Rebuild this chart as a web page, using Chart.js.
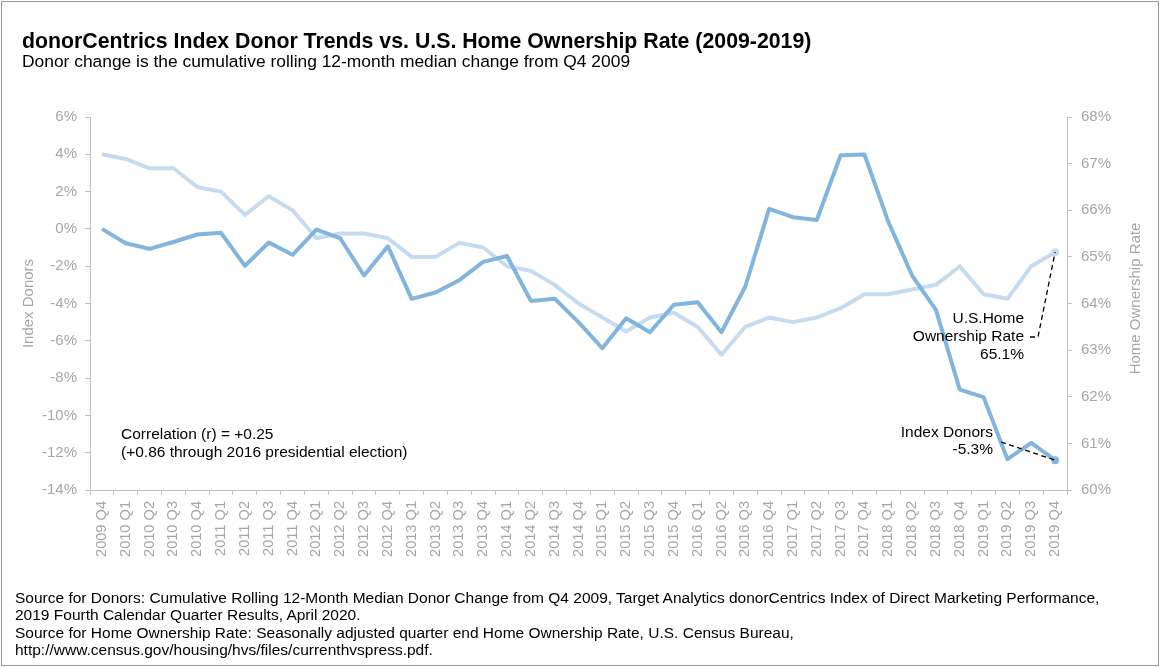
<!DOCTYPE html>
<html>
<head>
<meta charset="utf-8">
<script src="https://cdn.jsdelivr.net/npm/chart.js@4.4.1/dist/chart.umd.min.js"></script>
<style>
  html, body { margin: 0; padding: 0; background: #fff; }
  body { width: 1161px; height: 667px; position: relative; overflow: hidden; font-family: "Liberation Sans", Arial, sans-serif; }
  #frame { position: absolute; left: 1px; top: 1px; width: 1156px; height: 663px; border: 1px solid #9a9a9a; }
  #title { position: absolute; left: 22px; top: 29px; font-size: 21.3px; font-weight: bold; color: #000; line-height: 24px; white-space: nowrap; }
  #subtitle { position: absolute; left: 22px; top: 52px; font-size: 17.4px; color: #000; line-height: 19px; white-space: nowrap; }
  #source { position: absolute; left: 15px; top: 590px; font-size: 15.5px; color: #000; line-height: 16.5px; white-space: nowrap; }
  #source div.gap { margin-top: 2px; }
  canvas { position: absolute; left: 0; top: 0; }
</style>
</head>
<body>
<div id="frame"></div>
<canvas id="c" width="1161" height="667"></canvas>
<div id="title">donorCentrics Index Donor Trends vs. U.S. Home Ownership Rate (2009-2019)</div>
<div id="subtitle">Donor change is the cumulative rolling 12-month median change from Q4 2009</div>
<div id="source">
  <div>Source for Donors: Cumulative Rolling 12-Month Median Donor Change from Q4 2009, Target Analytics donorCentrics Index of Direct Marketing Performance,</div>
  <div>2019 Fourth Calendar Quarter Results, April 2020.</div>
  <div class="gap">Source for Home Ownership Rate: Seasonally adjusted quarter end Home Ownership Rate, U.S. Census Bureau,</div>
  <div>http://www.census.gov/housing/hvs/files/currenthvspress.pdf.</div>
</div>
<script>
const categories = [
  "2009 Q4",
  "2010 Q1","2010 Q2","2010 Q3","2010 Q4",
  "2011 Q1","2011 Q2","2011 Q3","2011 Q4",
  "2012 Q1","2012 Q2","2012 Q3","2012 Q4",
  "2013 Q1","2013 Q2","2013 Q3","2013 Q4",
  "2014 Q1","2014 Q2","2014 Q3","2014 Q4",
  "2015 Q1","2015 Q2","2015 Q3","2015 Q4",
  "2016 Q1","2016 Q2","2016 Q3","2016 Q4",
  "2017 Q1","2017 Q2","2017 Q3","2017 Q4",
  "2018 Q1","2018 Q2","2018 Q3","2018 Q4",
  "2019 Q1","2019 Q2","2019 Q3","2019 Q4"
];

// Index Donors, cumulative % change (left axis)
const donors = [
  0.0,
  -0.77, -1.07, -0.70, -0.30,
  -0.21, -1.98, -0.73, -1.39,
  -0.04, -0.50, -2.50, -0.93,
  -3.75, -3.41, -2.75, -1.77,
  -1.45, -3.86, -3.74, -5.0,
  -6.40, -4.79, -5.54, -4.07,
  -3.93, -5.54, -3.09, 1.07,
  0.63, 0.48, 3.95, 3.99,
  0.39, -2.50, -4.34, -8.62,
  -9.02, -12.35, -11.47, -12.40
];

// U.S. Home Ownership Rate, % (right axis)
const homeRate = [
  67.2,
  67.1, 66.9, 66.9, 66.5,
  66.4, 65.9, 66.3, 66.0,
  65.4, 65.5, 65.5, 65.4,
  65.0, 65.0, 65.3, 65.2,
  64.8, 64.7, 64.4, 64.0,
  63.7, 63.4, 63.7, 63.8,
  63.5, 62.9, 63.5, 63.7,
  63.6, 63.7, 63.9, 64.2,
  64.2, 64.3, 64.4, 64.8,
  64.2, 64.1, 64.8, 65.1
];

const leftTickValues = [6, 4, 2, 0, -2, -4, -6, -8, -10, -12, -14];
const rightTickValues = [68, 67, 66, 65, 64, 63, 62, 61, 60];

const FONT = "'Liberation Sans', Arial, sans-serif";
const GRAY_TEXT = '#a6a6a6';
const AXIS_GRAY = '#bfbfbf';
const DARK = '#82b5de';
const LIGHT = '#c5dcf0';

const lastIdx = categories.length - 1;

const annotationPlugin = {
  id: 'annotations',
  afterDraw(chart) {
    const ctx = chart.ctx;
    const xs = chart.scales.x, yl = chart.scales.y, yr = chart.scales.y1;
    ctx.save();
    // axis titles
    ctx.fillStyle = GRAY_TEXT;
    ctx.font = '15px ' + FONT;
    ctx.textAlign = 'center';
    ctx.textBaseline = 'middle';
    const midY = (chart.chartArea.top + chart.chartArea.bottom) / 2;
    ctx.save(); ctx.translate(29, midY); ctx.rotate(-Math.PI / 2); ctx.fillText('Index Donors', 0, 0); ctx.restore();
    ctx.save(); ctx.translate(1136, midY - 5); ctx.rotate(-Math.PI / 2); ctx.fillText('Home Ownership Rate', 0, 0); ctx.restore();

    // text annotations
    ctx.fillStyle = '#000';
    ctx.font = '15.5px ' + FONT;
    ctx.textAlign = 'left';
    ctx.fillText('Correlation (r) = +0.25', 121, 435);
    ctx.fillText('(+0.86 through 2016 presidential election)', 121, 453);

    ctx.textAlign = 'right';
    ctx.fillText('U.S.Home', 1024, 319);
    ctx.fillText('Ownership Rate', 1024, 337);
    ctx.fillText('65.1%', 1024, 355);

    ctx.fillText('Index Donors', 993, 433);
    ctx.fillText('-5.3%', 993, 450);

    // dashed leaders to the last points
    const hx = xs.getPixelForValue(lastIdx), hy = yr.getPixelForValue(homeRate[lastIdx]);
    const dx = hx, dy = yl.getPixelForValue(donors[lastIdx]);
    ctx.strokeStyle = '#000';
    ctx.lineWidth = 1.3;
    ctx.setLineDash([5, 3.5]);
    ctx.beginPath();
    ctx.moveTo(1030, 337); ctx.lineTo(1038, 337); ctx.lineTo(hx, hy);
    ctx.stroke();
    ctx.beginPath();
    ctx.moveTo(1001, 442); ctx.lineTo(dx, dy);
    ctx.stroke();
    ctx.restore();
  }
};

new Chart(document.getElementById('c'), {
  type: 'line',
  data: {
    labels: categories,
    datasets: [
      {
        label: 'Index Donors',
        data: donors,
        yAxisID: 'y',
        borderColor: DARK,
        backgroundColor: DARK,
        borderWidth: 4,
        borderJoinStyle: 'round',
        tension: 0,
        order: 0,
        pointRadius: c => c.dataIndex === lastIdx ? 4 : 0,
        pointBorderWidth: 0,
        pointBackgroundColor: DARK
      },
      {
        label: 'U.S. Home Ownership Rate',
        data: homeRate,
        yAxisID: 'y1',
        borderColor: LIGHT,
        backgroundColor: LIGHT,
        borderWidth: 4,
        borderJoinStyle: 'round',
        tension: 0,
        order: 1,
        pointRadius: c => c.dataIndex === lastIdx ? 4 : 0,
        pointBorderWidth: 0,
        pointBackgroundColor: LIGHT
      }
    ]
  },
  options: {
    responsive: false,
    animation: false,
    devicePixelRatio: 1,
    layout: { padding: { top: 117, left: 0, right: 0, bottom: 0 } },
    plugins: { legend: { display: false }, tooltip: { enabled: false }, title: { display: false } },
    scales: {
      x: {
        type: 'category',
        offset: true,
        grid: { offset: true, drawOnChartArea: false, drawTicks: true, tickLength: 5, color: AXIS_GRAY },
        border: { color: AXIS_GRAY, width: 1 },
        ticks: { autoSkip: false, minRotation: 90, maxRotation: 90, padding: 6, color: GRAY_TEXT, font: { family: FONT, size: 14.6 } },
        afterFit: s => { s.height = 177; }
      },
      y: {
        position: 'left',
        min: -14, max: 6,
        afterBuildTicks: s => { s.ticks = leftTickValues.map(v => ({ value: v })); },
        grid: { drawOnChartArea: false, drawTicks: true, tickLength: 5, color: AXIS_GRAY },
        border: { color: AXIS_GRAY, width: 1 },
        ticks: { padding: 8, color: GRAY_TEXT, font: { family: FONT, size: 15 }, callback: v => v + '%' },
        afterFit: s => { s.width = 90; }
      },
      y1: {
        position: 'right',
        min: 60, max: 68,
        afterBuildTicks: s => { s.ticks = rightTickValues.map(v => ({ value: v })); },
        grid: { drawOnChartArea: false, drawTicks: true, tickLength: 5, color: AXIS_GRAY },
        border: { color: AXIS_GRAY, width: 1 },
        ticks: { padding: 9, color: GRAY_TEXT, font: { family: FONT, size: 15 }, callback: v => v + '%' },
        afterFit: s => { s.width = 94; }
      }
    }
  },
  plugins: [annotationPlugin]
});
</script>
</body>
</html>
